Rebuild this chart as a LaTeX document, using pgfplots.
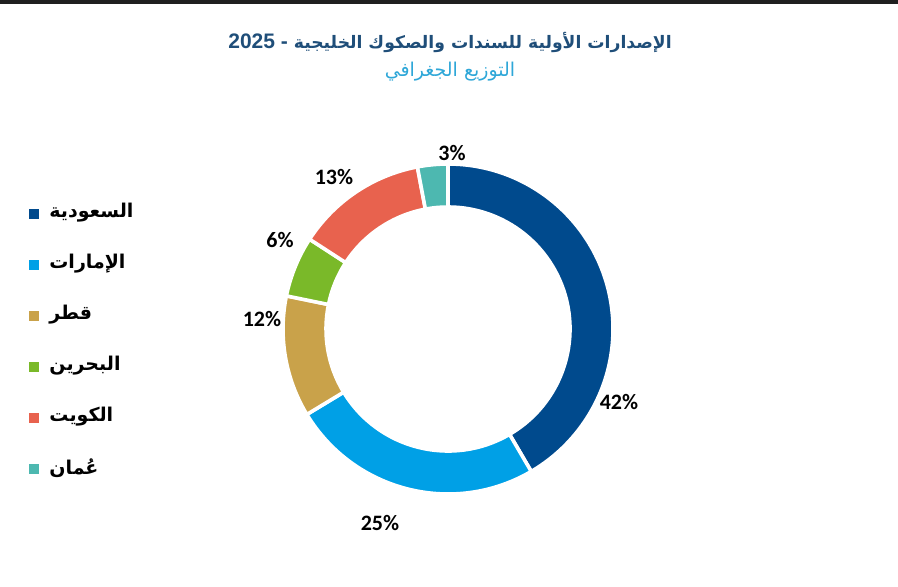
\documentclass[border=0pt]{standalone}
\usepackage{fontspec}
\setmainfont{DejaVu Sans}
\newfontfamily\arabicfont[Script=Arabic]{DejaVu Sans}
\newfontfamily\numfont{Carlito}
\newfontfamily\latinfont{Liberation Sans}
\usepackage{pgfplots}
\usepackage{pgfplotstable}
\pgfplotsset{compat=1.18}
\TeXXeTstate=1

\definecolor{cSA}{RGB}{0,74,141}
\definecolor{cAE}{RGB}{0,160,230}
\definecolor{cQA}{RGB}{201,162,74}
\definecolor{cBH}{RGB}{122,185,41}
\definecolor{cKW}{RGB}{232,98,78}
\definecolor{cOM}{RGB}{77,184,176}
\definecolor{titleblue}{RGB}{31,78,121}
\definecolor{subblue}{RGB}{46,167,216}

% share (%), colour, label position (pixels, y up)
\pgfplotstableread{
value col lx ly
42 cSA 619 184
25 cAE 380 63
12 cQA 262 267
6  cBH 280 346
13 cKW 334 409
3  cOM 452 433
}\shares

\tikzset{legtext/.style={anchor=west, inner sep=0pt, font=\arabicfont\bfseries\fontsize{9.5}{11}\selectfont}}

\begin{document}
\begin{tikzpicture}
\begin{axis}[
  x=0.5pt, y=0.5pt,
  xmin=0, xmax=898, ymin=0, ymax=586,
  hide axis, clip=false,
]
\fill[white] (axis cs:0,0) rectangle (axis cs:898,586);
\fill[black!88] (axis cs:0,582) rectangle (axis cs:898,586);

% total
\def\total{0}
\pgfplotsforeachungrouped \i in {0,...,5}{%
  \pgfplotstablegetelem{\i}{value}\of\shares
  \pgfmathsetmacro\total{\total+\pgfplotsretval}%
}
\def\cum{0}
\pgfplotsforeachungrouped \i in {0,...,5}{%
  \pgfplotstablegetelem{\i}{value}\of\shares \let\v\pgfplotsretval
  \pgfplotstablegetelem{\i}{col}\of\shares \let\c\pgfplotsretval
  \pgfplotstablegetelem{\i}{lx}\of\shares \let\lx\pgfplotsretval
  \pgfplotstablegetelem{\i}{ly}\of\shares \let\ly\pgfplotsretval
  \pgfmathsetmacro\a{90-\cum/\total*360}%
  \pgfmathsetmacro\cum{\cum+\v}%
  \pgfmathsetmacro\b{90-\cum/\total*360}%
  \edef\slice{\noexpand\fill[\c, draw=white, line width=1.8pt, line join=miter]
    (axis cs:448,257) ++(\a:82.5pt) arc[start angle=\a, end angle=\b, radius=82.5pt]
    -- ++(\b:-21.5pt) arc[start angle=\b, end angle=\a, radius=61pt] -- cycle;}%
  \slice
  \edef\lab{\noexpand\node[font=\noexpand\numfont\noexpand\bfseries\noexpand\fontsize{11}{12}\noexpand\selectfont]
    at (axis cs:\lx,\ly) {\v\noexpand\%};}%
  \lab
}

% titles
\node[font=\arabicfont\bfseries\fontsize{8.6}{12}\selectfont, text=titleblue]
  at (axis cs:450,544) {\beginR الإصدارات الأولية للسندات والصكوك الخليجية {\latinfont\bfseries\fontsize{10.5}{12}\selectfont - \beginL 2025\endL}\endR};
\node[font=\arabicfont\fontsize{9.5}{12}\selectfont, text=subblue]
  at (axis cs:450,514) {\beginR التوزيع الجغرافي\endR};

% legend
\fill[cSA] (axis cs:29,367) rectangle (axis cs:39,377);
\node[legtext] at (axis cs:49,373) {\beginR السعودية\endR};
\fill[cAE] (axis cs:29,316) rectangle (axis cs:39,326);
\node[legtext] at (axis cs:49,322) {\beginR الإمارات\endR};
\fill[cQA] (axis cs:29,265) rectangle (axis cs:39,275);
\node[legtext] at (axis cs:49,271) {\beginR قطر\endR};
\fill[cBH] (axis cs:29,214) rectangle (axis cs:39,224);
\node[legtext] at (axis cs:49,220) {\beginR البحرين\endR};
\fill[cKW] (axis cs:29,163) rectangle (axis cs:39,173);
\node[legtext] at (axis cs:49,169) {\beginR الكويت\endR};
\fill[cOM] (axis cs:29,112) rectangle (axis cs:39,122);
\node[legtext] at (axis cs:49,118) {\beginR عُمان\endR};
\end{axis}
\end{tikzpicture}
\end{document}
